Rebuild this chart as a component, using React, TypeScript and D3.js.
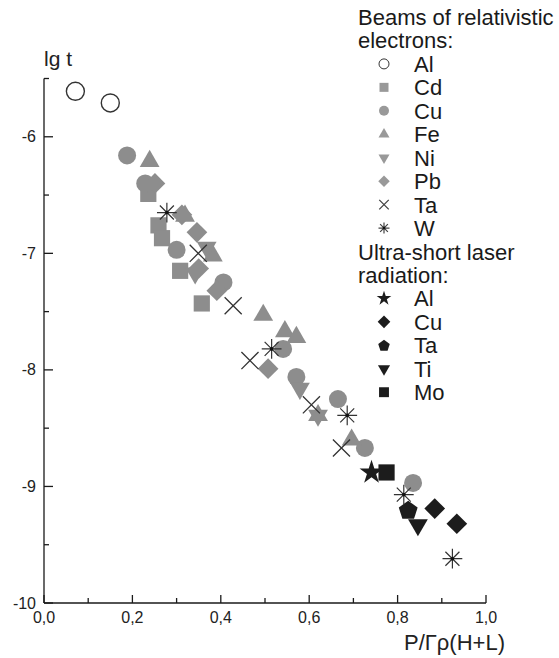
import { useEffect, useRef } from "react";
import * as d3 from "d3";

// electron beams (grey markers)
const alBeam = [[0.071, -5.61], [0.15, -5.71]];
const cdBeam = [[0.236, -6.49], [0.259, -6.76], [0.267, -6.87], [0.308, -7.15], [0.357, -7.43]];
const cuBeam = [
  [0.188, -6.16], [0.229, -6.4], [0.3, -6.97], [0.406, -7.25], [0.541, -7.82],
  [0.571, -8.06], [0.665, -8.25], [0.726, -8.67], [0.835, -8.97],
];
const feBeam = [
  [0.239, -6.21], [0.319, -6.68], [0.382, -7.02], [0.496, -7.53], [0.545, -7.67],
  [0.571, -7.72], [0.62, -8.39], [0.696, -8.6],
];
const niBeam = [[0.368, -6.95], [0.342, -7.17], [0.579, -8.16], [0.62, -8.39]];
const pbBeam = [
  [0.251, -6.4], [0.312, -6.67], [0.346, -6.82], [0.35, -7.13], [0.391, -7.32], [0.507, -7.99],
];
const taBeam = [[0.349, -7.0], [0.428, -7.45], [0.466, -7.92], [0.605, -8.3], [0.673, -8.67]];
const wBeam = [[0.278, -6.65], [0.515, -7.82], [0.686, -8.39], [0.814, -9.07], [0.924, -9.62]];

// ultra-short laser (black markers)
const alLaser = [[0.741, -8.88]];
const cuLaser = [[0.884, -9.19], [0.934, -9.32]];
const taLaser = [[0.824, -9.2]];
const tiLaser = [[0.846, -9.33]];
const moLaser = [[0.775, -8.88]];

const xTicks = [0, 0.2, 0.4, 0.6, 0.8, 1.0];
const xMinor = [0.1, 0.3, 0.5, 0.7, 0.9];
const yTicks = [-6, -7, -8, -9, -10];
const yMinor = [-5.5, -6.5, -7.5, -8.5, -9.5];

const GREY = "#8d8d8d";
const BLACK = "#1c1c1c";
const FONT = "'Liberation Sans', Arial, sans-serif";

type Shape = "circleOpen" | "square" | "circle" | "triUp" | "triDown" | "diamond" | "x" | "asterisk" | "star" | "pentagon";

const series: { name: string; data: number[][]; shape: Shape; color: string }[] = [
  { name: "Al", data: alBeam, shape: "circleOpen", color: "#333" },
  { name: "Cd", data: cdBeam, shape: "square", color: GREY },
  { name: "Cu", data: cuBeam, shape: "circle", color: GREY },
  { name: "Fe", data: feBeam, shape: "triUp", color: GREY },
  { name: "Ni", data: niBeam, shape: "triDown", color: GREY },
  { name: "Pb", data: pbBeam, shape: "diamond", color: GREY },
  { name: "Ta", data: taBeam, shape: "x", color: "#333" },
  { name: "W", data: wBeam, shape: "asterisk", color: "#333" },
];
const laser: { name: string; data: number[][]; shape: Shape; color: string }[] = [
  { name: "Al", data: alLaser, shape: "star", color: BLACK },
  { name: "Cu", data: cuLaser, shape: "diamond", color: BLACK },
  { name: "Ta", data: taLaser, shape: "pentagon", color: BLACK },
  { name: "Ti", data: tiLaser, shape: "triDown", color: BLACK },
  { name: "Mo", data: moLaser, shape: "square", color: BLACK },
];

function drawMarker(g: any, shape: Shape, cx: number, cy: number, s: number, color: string) {
  // s = nominal half-size of the marker
  const t = `translate(${cx},${cy})`;
  if (shape === "circleOpen") {
    g.append("circle").attr("cx", cx).attr("cy", cy).attr("r", s)
      .attr("fill", "white").attr("stroke", color).attr("stroke-width", s > 6 ? 1.4 : 1);
  } else if (shape === "circle") {
    g.append("circle").attr("cx", cx).attr("cy", cy).attr("r", s).attr("fill", color);
  } else if (shape === "square") {
    const a = s * 0.9;
    g.append("rect").attr("x", cx - a).attr("y", cy - a).attr("width", 2 * a).attr("height", 2 * a).attr("fill", color);
  } else if (shape === "triUp" || shape === "triDown") {
    const side = s * 2.2;
    const p = d3.symbol(d3.symbolTriangle, (Math.sqrt(3) / 4) * side * side)();
    g.append("path").attr("d", p).attr("fill", color)
      .attr("transform", t + (shape === "triDown" ? " rotate(180)" : ""));
  } else if (shape === "diamond") {
    const r = s * 1.15;
    g.append("path").attr("d", `M0,${-r}L${r},0L0,${r}L${-r},0Z`).attr("fill", color).attr("transform", t);
  } else if (shape === "pentagon") {
    const pts = d3.range(5).map((k) => {
      const a = (-90 + 72 * k) * (Math.PI / 180);
      return [Math.cos(a) * s * 1.1, Math.sin(a) * s * 1.1 + s * 0.1];
    });
    g.append("path").attr("d", "M" + pts.join("L") + "Z").attr("fill", color).attr("transform", t);
  } else if (shape === "star") {
    const p = d3.symbol(d3.symbolStar, s * s * 2.2)();
    g.append("path").attr("d", p).attr("fill", color).attr("transform", t);
  } else if (shape === "x") {
    const r = s * 0.95;
    g.append("path").attr("d", `M${-r},${-r}L${r},${r}M${-r},${r}L${r},${-r}`)
      .attr("stroke", color).attr("stroke-width", 1.3).attr("fill", "none").attr("transform", t);
  } else if (shape === "asterisk") {
    const r = s * 1.1;
    const d = r * Math.SQRT1_2;
    g.append("path")
      .attr("d", `M${-r},0L${r},0M0,${-r}L0,${r}M${-d},${-d}L${d},${d}M${-d},${d}L${d},${-d}`)
      .attr("stroke", color).attr("stroke-width", 1.2).attr("fill", "none").attr("transform", t);
    g.append("circle").attr("cx", cx).attr("cy", cy).attr("r", s > 6 ? 1.8 : 1.2).attr("fill", "#111");
  }
}

const App = () => {
  const ref = useRef<SVGSVGElement>(null);

  useEffect(() => {
    const svg = d3.select(ref.current);
    svg.selectAll("*").remove();

    const x = d3.scaleLinear().domain([0, 1]).range([44, 486]);
    const y = d3.scaleLinear().domain([-10, -5.5]).range([603, 78.5]);

    const axis = svg.append("g").attr("stroke", "#1a1a1a").attr("stroke-width", 1.3);
    axis.append("line").attr("x1", x(0)).attr("x2", x(0)).attr("y1", y(-5.5)).attr("y2", y(-10));
    axis.append("line").attr("x1", x(0)).attr("x2", x(1)).attr("y1", y(-10)).attr("y2", y(-10));

    yTicks.forEach((v) => axis.append("line").attr("x1", x(0)).attr("x2", x(0) + 9).attr("y1", y(v)).attr("y2", y(v)));
    yMinor.forEach((v) => axis.append("line").attr("x1", x(0)).attr("x2", x(0) + 5).attr("y1", y(v)).attr("y2", y(v)));
    xTicks.forEach((v) => axis.append("line").attr("x1", x(v)).attr("x2", x(v)).attr("y1", y(-10)).attr("y2", y(-10) - 8));
    xMinor.forEach((v) => axis.append("line").attr("x1", x(v)).attr("x2", x(v)).attr("y1", y(-10)).attr("y2", y(-10) - 5));

    const labels = svg.append("g").attr("font-family", FONT).attr("fill", "#222");
    yTicks.forEach((v) =>
      labels.append("text").attr("x", x(0) - 8).attr("y", y(v) + 5.5).attr("text-anchor", "end")
        .attr("font-size", 16).text(String(v))
    );
    xTicks.forEach((v) =>
      labels.append("text").attr("x", x(v)).attr("y", 623).attr("text-anchor", "middle")
        .attr("font-size", 16).text(v.toFixed(1).replace(".", ","))
    );
    labels.append("text").attr("x", 44).attr("y", 66).attr("font-size", 21).text("lg t");
    labels.append("text").attr("x", 505).attr("y", 650).attr("text-anchor", "end")
      .attr("font-size", 22).text("P/Γρ(H+L)");

    const marks = svg.append("g");
    [...series, ...laser].forEach((s) =>
      s.data.forEach((d) => drawMarker(marks, s.shape, x(d[0]), y(d[1]), 9, s.color))
    );

    // legend
    const lg = svg.append("g").attr("font-family", FONT).attr("fill", "#1a1a1a").attr("font-size", 22);
    const rowY = (i: number) => 25 + 23.45 * i;
    lg.append("text").attr("x", 358).attr("y", rowY(0)).text("Beams of relativistic");
    lg.append("text").attr("x", 358).attr("y", rowY(1)).text("electrons:");
    series.forEach((s, i) => {
      const by = rowY(i + 2);
      drawMarker(lg, s.shape, 384, by - 8, 5, s.shape === "x" || s.shape === "asterisk" ? "#444" : s.color === GREY ? "#999" : s.color);
      lg.append("text").attr("x", 414).attr("y", by).text(s.name);
    });
    lg.append("text").attr("x", 358).attr("y", rowY(10)).text("Ultra-short laser");
    lg.append("text").attr("x", 358).attr("y", rowY(11)).text("radiation:");
    laser.forEach((s, i) => {
      const by = rowY(i + 12);
      drawMarker(lg, s.shape, 384, by - 8, 5.5, s.color);
      lg.append("text").attr("x", 414).attr("y", by).text(s.name);
    });
  }, []);

  return (
    <svg
      ref={ref}
      width={559}
      height={658}
      style={{ position: "absolute", left: 0, top: 0, background: "white" }}
    />
  );
};

export default App;
